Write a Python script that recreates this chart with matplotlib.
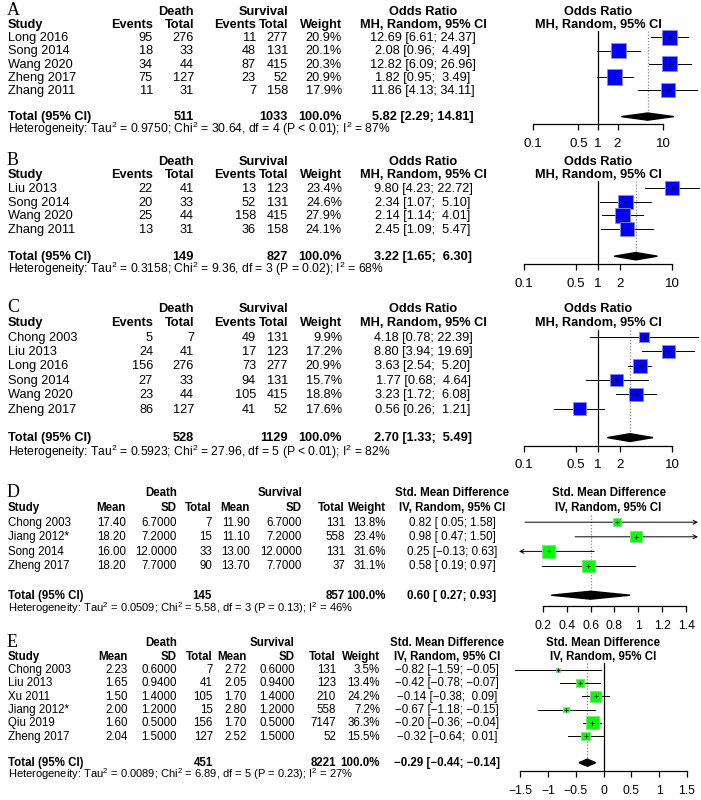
import matplotlib
matplotlib.use('Agg')
import matplotlib.pyplot as plt
import numpy as np

plt.rcParams['font.family'] = 'Liberation Sans'
plt.rcParams['font.size'] = 8.3
plt.rcParams['mathtext.fontset'] = 'custom'
plt.rcParams['mathtext.rm'] = 'Liberation Sans'
plt.rcParams['mathtext.bf'] = 'Liberation Sans:bold'

# ---------------- data ----------------
# A: odds ratio
a_study = ['Long 2016', 'Song 2014', 'Wang 2020', 'Zheng 2017', 'Zhang 2011']
a_ev_d = [95, 18, 34, 75, 11]
a_n_d = [276, 33, 44, 127, 31]
a_ev_s = [11, 48, 87, 23, 7]
a_n_s = [277, 131, 415, 52, 158]
a_w = [20.9, 20.1, 20.3, 20.9, 17.9]
a_est = [12.69, 2.08, 12.82, 1.82, 11.86]
a_lo = [6.61, 0.96, 6.09, 0.95, 4.13]
a_hi = [24.37, 4.49, 26.96, 3.49, 34.11]
a_tot = [511, 1033]
a_sum = [5.82, 2.29, 14.81]
a_het = ['0.9750', '30.64', '4', '< 0.01', '87%']

# B
b_study = ['Liu 2013', 'Song 2014', 'Wang 2020', 'Zhang 2011']
b_ev_d = [22, 20, 25, 13]
b_n_d = [41, 33, 44, 31]
b_ev_s = [13, 52, 158, 36]
b_n_s = [123, 131, 415, 158]
b_w = [23.4, 24.6, 27.9, 24.1]
b_est = [9.80, 2.34, 2.14, 2.45]
b_lo = [4.23, 1.07, 1.14, 1.09]
b_hi = [22.72, 5.10, 4.01, 5.47]
b_tot = [149, 827]
b_sum = [3.22, 1.65, 6.30]
b_het = ['0.3158', '9.36', '3', '= 0.02', '68%']

# C
c_study = ['Chong 2003', 'Liu 2013', 'Long 2016', 'Song 2014', 'Wang 2020', 'Zheng 2017']
c_ev_d = [5, 24, 156, 27, 23, 86]
c_n_d = [7, 41, 276, 33, 44, 127]
c_ev_s = [49, 17, 73, 94, 105, 41]
c_n_s = [131, 123, 277, 131, 415, 52]
c_w = [9.9, 17.2, 20.9, 15.7, 18.8, 17.6]
c_est = [4.18, 8.80, 3.63, 1.77, 3.23, 0.56]
c_lo = [0.78, 3.94, 2.54, 0.68, 1.72, 0.26]
c_hi = [22.39, 19.69, 5.20, 4.64, 6.08, 1.21]
c_tot = [528, 1129]
c_sum = [2.70, 1.33, 5.49]
c_het = ['0.5923', '27.96', '5', '< 0.01', '82%']

# D: std. mean difference
d_study = ['Chong 2003', 'Jiang 2012*', 'Song 2014', 'Zheng 2017']
d_m_d = [17.40, 18.20, 16.00, 18.20]
d_sd_d = [6.7, 7.2, 12.0, 7.7]
d_n_d = [7, 15, 33, 90]
d_m_s = [11.90, 11.10, 13.00, 13.70]
d_sd_s = [6.7, 7.2, 12.0, 7.7]
d_n_s = [131, 558, 131, 37]
d_w = [13.8, 23.4, 31.6, 31.1]
d_est = [0.82, 0.98, 0.25, 0.58]
d_lo = [0.05, 0.47, -0.13, 0.19]
d_hi = [1.58, 1.50, 0.63, 0.97]
d_tot = [145, 857]
d_sum = [0.60, 0.27, 0.93]
d_het = ['0.0509', '5.58', '3', '= 0.13', '46%']

# E
e_study = ['Chong 2003', 'Liu 2013', 'Xu 2011', 'Jiang 2012*', 'Qiu 2019', 'Zheng 2017']
e_m_d = [2.23, 1.65, 1.50, 2.00, 1.60, 2.04]
e_sd_d = [0.6, 0.94, 1.4, 1.2, 0.5, 1.5]
e_n_d = [7, 41, 105, 15, 156, 127]
e_m_s = [2.72, 2.05, 1.70, 2.80, 1.70, 2.52]
e_sd_s = [0.6, 0.94, 1.4, 1.2, 0.5, 1.5]
e_n_s = [131, 123, 210, 558, 7147, 52]
e_w = [3.5, 13.4, 24.2, 7.2, 36.3, 15.5]
e_est = [-0.82, -0.42, -0.14, -0.67, -0.20, -0.32]
e_lo = [-1.59, -0.78, -0.38, -1.18, -0.36, -0.64]
e_hi = [-0.05, -0.07, 0.09, -0.15, -0.04, 0.01]
e_tot = [451, 8221]
e_sum = [-0.29, -0.44, -0.14]
e_het = ['0.0089', '6.89', '5', '= 0.23', '27%']

or_ticks = [0.1, 0.5, 1, 2, 10]
or_ticklab = ['0.1', '0.5', '1', '2', '10']
d_ticks = [0.2, 0.4, 0.6, 0.8, 1.0, 1.2, 1.4]
d_ticklab = ['0.2', '0.4', '0.6', '0.8', '1', '1.2', '1.4']
e_ticks = [-1.5, -1.0, -0.5, 0, 0.5, 1.0, 1.5]
e_ticklab = ['\u22121.5', '\u22121', '\u22120.5', '0', '0.5', '1', '1.5']

# ---------------- figure ----------------
W, H = 701, 800
fig = plt.figure(figsize=(W / 100, H / 100), dpi=100)
bg = fig.add_axes([0, 0, 1, 1])
bg.set_xlim(0, W)
bg.set_ylim(H, 0)
bg.axis('off')


def txt(x, y, s, fs, ha='right', bold=False):
    bg.text(x, y + 0.42 * fs, s, ha=ha, va='baseline', fontsize=fs,
            fontweight='bold' if bold else 'normal')


def fmt_ci(est, lo, hi):
    slo = ['%.2f' % v for v in lo]
    shi = ['%.2f' % v for v in hi]
    wl = max(len(s) for s in slo)
    wu = max(len(s) for s in shi)
    out = ['%.2f [%s; %s]' % (e, l.rjust(wl), u.rjust(wu)) for e, l, u in zip(est, slo, shi)]
    return [s.replace('-', '\u2212') for s in out]


def forest(x0, x1, y_top, y_bot, xlim, log, est, lo, hi, w, bk, col, ecol, summ,
           null, ticks, ticklab, h, d, fs, hdr1, hdr2, y_hdr):
    n = len(est)
    ax = fig.add_axes([x0 / W, 1 - y_bot / H, (x1 - x0) / W, (y_bot - y_top) / H])
    if log:
        ax.set_xscale('log')
    ax.set_xlim(xlim)
    ax.set_ylim(n + 1 + d, -0.5)
    ax.patch.set_visible(False)
    for i in range(n):
        l = max(lo[i], xlim[0])
        u = min(hi[i], xlim[1])
        if lo[i] < xlim[0]:
            ax.annotate('', xy=(xlim[0], i), xytext=(u, i),
                        arrowprops=dict(arrowstyle='->', lw=0.7, color='k',
                                        shrinkA=0, shrinkB=0, mutation_scale=7))
        elif hi[i] >= xlim[1]:
            ax.annotate('', xy=(xlim[1], i), xytext=(l, i),
                        arrowprops=dict(arrowstyle='->', lw=0.7, color='k',
                                        shrinkA=0, shrinkB=0, mutation_scale=7))
        else:
            ax.plot([l, u], [i, i], color='k', lw=0.7, zorder=2)
    side = bk * np.sqrt(np.array(w)) * 0.72
    ax.scatter(est, np.arange(n), s=side ** 2, marker='s', c=col, edgecolors=ecol,
               linewidths=0.6, zorder=3, clip_on=False)
    ax.scatter(est, np.arange(n), s=10, marker='|', c='k', linewidths=0.6, zorder=4, clip_on=False)
    ax.scatter(est, np.arange(n), s=10, marker='_', c='k', linewidths=0.6, zorder=4, clip_on=False)
    yt = n + 1
    ax.fill([summ[1], summ[0], summ[2], summ[0]], [yt, yt - 0.27, yt, yt + 0.27],
            color='k', zorder=3, clip_on=False)
    if null is not None:
        ax.plot([null, null], [-0.5, n + 1 + d], color='k', lw=0.9, zorder=1)
    ax.plot([summ[0], summ[0]], [-0.5, yt], color='#888888', ls=(0, (1, 1.5)), lw=0.9, zorder=1)
    for s in ['top', 'left', 'right']:
        ax.spines[s].set_visible(False)
    ax.spines['bottom'].set_bounds(ticks[0], ticks[-1])
    ax.spines['bottom'].set_linewidth(0.9)
    ax.set_yticks([])
    ax.set_xticks(ticks)
    ax.set_xticklabels(ticklab)
    ax.minorticks_off()
    ax.tick_params(axis='x', direction='out', length=4, width=0.9, pad=6, labelsize=fs + 0.4)
    xc = (x0 + x1) / 2
    txt(xc, y_hdr, hdr1, fs, ha='center', bold=True)
    txt(xc, y_hdr + h, hdr2, fs, ha='center', bold=True)


def het_text(x, y, v, fs):
    s = ('Heterogeneity: Tau$^2$ = %s; Chi$^2$ = %s, df = %s (P %s); I$^2$ = %s'
         % (v[0], v[1], v[2], v[3], v[4]))
    txt(x, y, s, fs, ha='left')


def or_panel(letter, top, h, study, ev_d, n_d, ev_s, n_s, w, est, lo, hi, tot, summ, het,
             xlim, px, bk, d, fs):
    n = len(study)
    c = dict(ev1=153, tot1=194, ev2=256, tot2=288, wt=342, ci=423)
    bg.text(7, top + 4, letter, ha='left', va='baseline', fontsize=13, family='Liberation Serif')
    txt(c['tot1'], top, 'Death', fs, bold=True)
    txt(c['tot2'], top, 'Survival', fs, bold=True)
    txt(c['ci'], top, 'Odds Ratio', fs, ha='center', bold=True)
    y1 = top + h
    txt(8, y1, 'Study', fs, ha='left', bold=True)
    for k, lab in zip(['ev1', 'tot1', 'ev2', 'tot2', 'wt'],
                      ['Events', 'Total', 'Events', 'Total', 'Weight']):
        txt(c[k], y1, lab, fs, bold=True)
    txt(c['ci'], y1, 'MH, Random, 95% CI', fs, ha='center', bold=True)
    cis = fmt_ci(est + [summ[0]], lo + [summ[1]], hi + [summ[2]])
    for i in range(n):
        y = top + (2 + i) * h
        txt(8, y, study[i], fs, ha='left')
        txt(c['ev1'], y, str(ev_d[i]), fs)
        txt(c['tot1'], y, str(n_d[i]), fs)
        txt(c['ev2'], y, str(ev_s[i]), fs)
        txt(c['tot2'], y, str(n_s[i]), fs)
        txt(c['wt'], y, '%.1f%%' % w[i], fs)
        txt(c['ci'], y, cis[i], fs, ha='center')
    yt = top + (3 + n) * h
    txt(8, yt, 'Total (95% CI)', fs, ha='left', bold=True)
    txt(c['tot1'], yt, str(tot[0]), fs, bold=True)
    txt(c['tot2'], yt, str(tot[1]), fs, bold=True)
    txt(c['wt'], yt, '100.0%', fs, bold=True)
    txt(c['ci'], yt, cis[-1], fs, ha='center', bold=True)
    het_text(8, yt + 1.0 * h, het, fs * 0.95)
    y_top = top + 1.5 * h
    y_bot = yt + d * h
    forest(px[0], px[1], y_top, y_bot, xlim, True, est, lo, hi, w, bk, '#0000ff', '#8c8cd9',
           summ, 1, or_ticks, or_ticklab, h, d, fs, 'Odds Ratio', 'MH, Random, 95% CI', top)


def smd_panel(letter, top, h, study, m_d, sd_d, n_d, m_s, sd_s, n_s, w, est, lo, hi, tot, summ,
              het, c, xlim, px, bk, d, null, ticks, ticklab, fs):
    n = len(study)
    bg.text(7, top + 4, letter, ha='left', va='baseline', fontsize=13, family='Liberation Serif')
    txt(c['sd1'], top, 'Death', fs, bold=True)
    txt(c['sd2'], top, 'Survival', fs, bold=True)
    txt(c['ci'], top, 'Std. Mean Difference', fs, ha='center', bold=True)
    y1 = top + h
    txt(8, y1, 'Study', fs, ha='left', bold=True)
    for k, lab in zip(['m1', 'sd1', 'tot1', 'm2', 'sd2', 'tot2', 'wt'],
                      ['Mean', 'SD', 'Total', 'Mean', 'SD', 'Total', 'Weight']):
        txt(c[k], y1, lab, fs, bold=True)
    txt(c['ci'], y1, 'IV, Random, 95% CI', fs, ha='center', bold=True)
    cis = fmt_ci(est + [summ[0]], lo + [summ[1]], hi + [summ[2]])
    for i in range(n):
        y = top + (2 + i) * h
        txt(8, y, study[i], fs, ha='left')
        txt(c['m1'], y, '%.2f' % m_d[i], fs)
        txt(c['sd1'], y, '%.4f' % sd_d[i], fs)
        txt(c['tot1'], y, str(n_d[i]), fs)
        txt(c['m2'], y, '%.2f' % m_s[i], fs)
        txt(c['sd2'], y, '%.4f' % sd_s[i], fs)
        txt(c['tot2'], y, str(n_s[i]), fs)
        txt(c['wt'], y, '%.1f%%' % w[i], fs)
        txt(c['ci'], y, cis[i], fs, ha='center')
    yt = top + (3 + n) * h
    txt(8, yt, 'Total (95% CI)', fs, ha='left', bold=True)
    txt(c['tot1'], yt, str(tot[0]), fs, bold=True)
    txt(c['tot2'], yt, str(tot[1]), fs, bold=True)
    txt(c['wt'], yt, '100.0%', fs, bold=True)
    txt(c['ci'], yt, cis[-1], fs, ha='center', bold=True)
    het_text(8, yt + 0.9 * h, het, fs * 0.97)
    y_top = top + 1.5 * h
    y_bot = yt + d * h
    forest(px[0], px[1], y_top, y_bot, xlim, False, est, lo, hi, w, bk, '#00ff00', '#7de07d',
           summ, null, ticks, ticklab, h, d, fs, 'Std. Mean Difference', 'IV, Random, 95% CI', top)


or_panel('A', 11, 13.2, a_study, a_ev_d, a_n_d, a_ev_s, a_n_s, a_w, a_est, a_lo, a_hi,
         a_tot, a_sum, a_het, (1 / 36, 36), (497, 699), 3.3, 0.55, 9.2)
or_panel('B', 161, 13.6, b_study, b_ev_d, b_n_d, b_ev_s, b_n_s, b_w, b_est, b_lo, b_hi,
         b_tot, b_sum, b_het, (1 / 23.5, 23.5), (496, 700), 2.85, 0.6, 9.2)
or_panel('C', 308, 14.4, c_study, c_ev_d, c_n_d, c_ev_s, c_n_s, c_w, c_est, c_lo, c_hi,
         c_tot, c_sum, c_het, (1 / 23.5, 23.5), (496, 700), 3.1, 0.55, 9.2)

cd = dict(m1=126, sd1=177, tot1=212, m2=250, sd2=302, tot2=345, wt=386, ci=452)
ce = dict(m1=128, sd1=177, tot1=213, m2=247, sd2=295, tot2=336, wt=380, ci=447)
smd_panel('D', 493, 14.6, d_study, d_m_d, d_sd_d, d_n_d, d_m_s, d_sd_s, d_n_s, d_w, d_est,
          d_lo, d_hi, d_tot, d_sum, d_het, cd, (0.0, 1.5), (519, 698), 2.3, 0.75, None,
          d_ticks, d_ticklab, 8.3)
smd_panel('E', 643, 13.3, e_study, e_m_d, e_sd_d, e_n_d, e_m_s, e_sd_s, e_n_s, e_w, e_est,
          e_lo, e_hi, e_tot, e_sum, e_het, ce, (-1.6, 1.6), (514.5, 692.5), 2.2, 0.6, 0,
          e_ticks, e_ticklab, 8.3)

plt.savefig('out.png', dpi=100)
